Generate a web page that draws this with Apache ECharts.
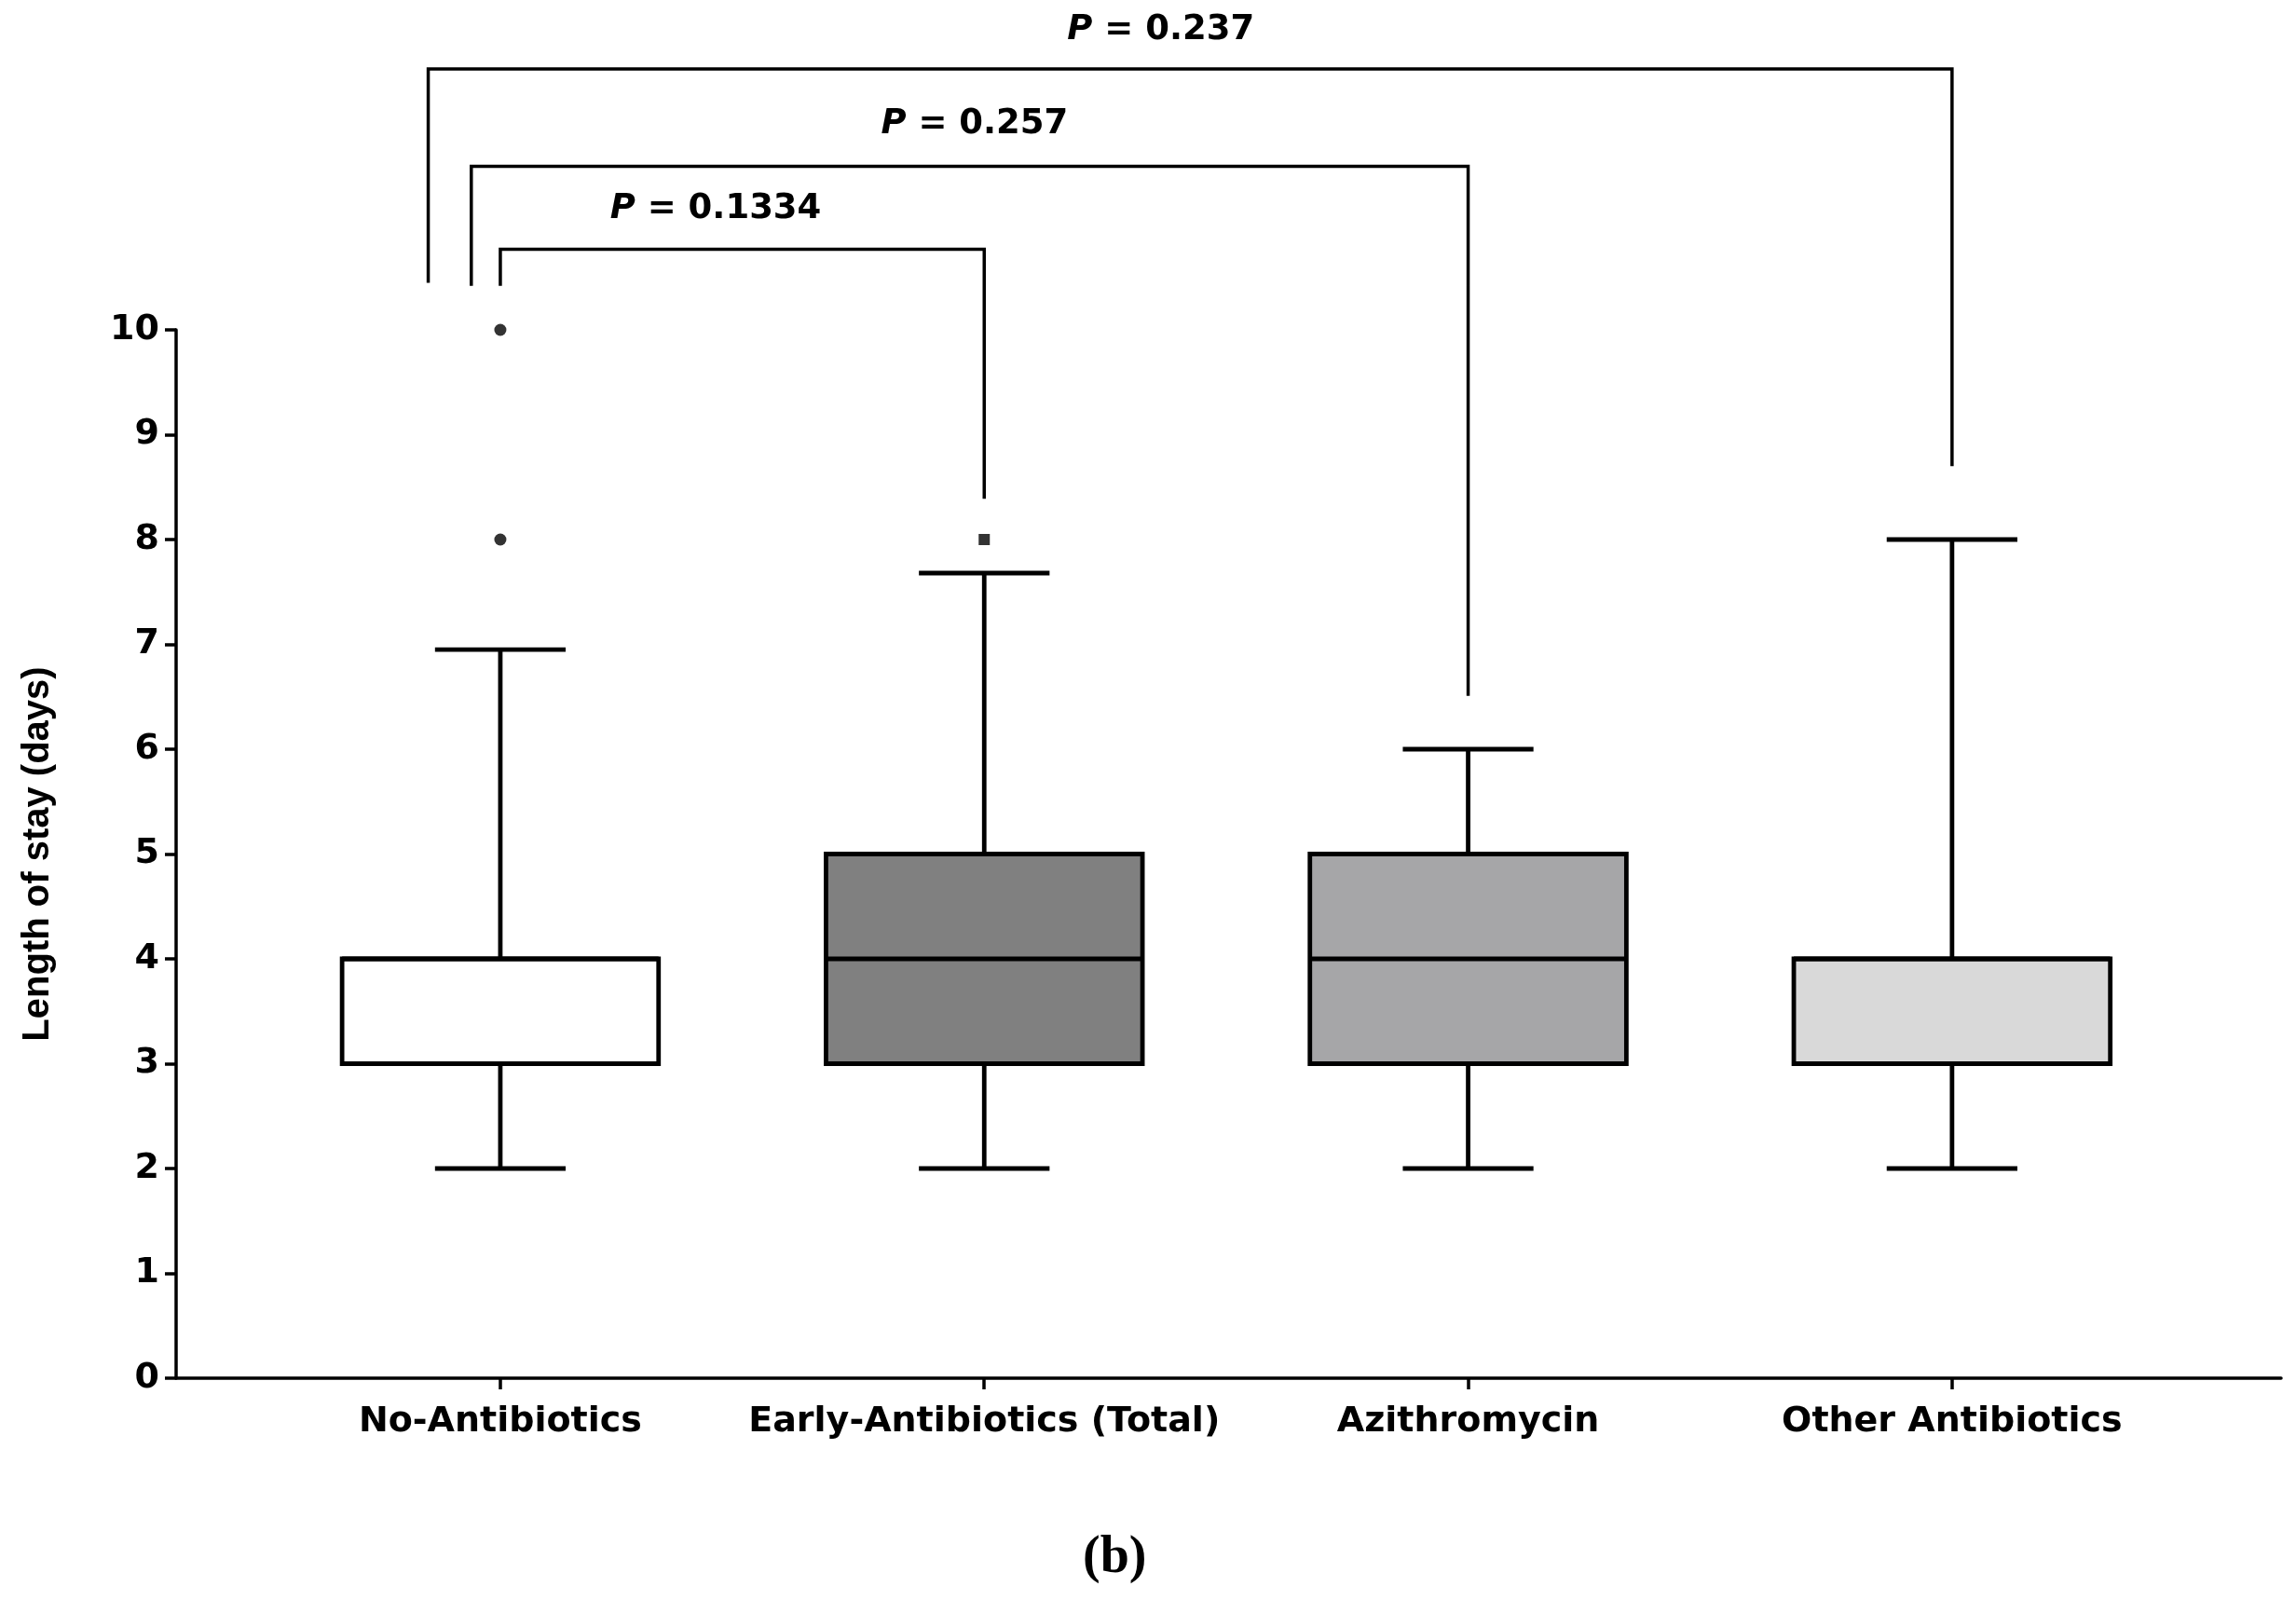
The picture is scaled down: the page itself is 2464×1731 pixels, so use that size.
<!DOCTYPE html>
<html><head><meta charset="utf-8">
<script src="https://cdn.jsdelivr.net/npm/echarts@6/dist/echarts.min.js"></script>
<style>html,body{margin:0;background:#fff}#c{width:2464px;height:1731px}</style>
</head><body><div id="c"></div>
<script>
const categories = ['No-Antibiotics', 'Early-Antibiotics (Total)', 'Azithromycin', 'Other Antibiotics'];
// [whiskerLow, q1, median, q3, whiskerHigh]
const boxValues = [
  [2, 3, 4, 4, 6.95],
  [2, 3, 4, 5, 7.68],
  [2, 3, 4, 5, 6],
  [2, 3, 4, 4, 8]
];
const boxColors = ['#ffffff', '#808080', '#a6a6a8', '#d9d9d9'];
const outliersCircle = [[0, 10], [0, 8]];
const outliersSquare = [[1, 8]];
// brackets: [leftX, leftY, topY, rightX, rightY, labelX, labelY, pText]
const brackets = [
  [0, 10.42, 10.77, 1, 8.39, 0.445, 11.15, '0.1334'],
  [-0.06, 10.42, 11.56, 2, 6.51, 0.98, 11.96, '0.257'],
  [-0.149, 10.45, 12.49, 3, 8.70, 1.365, 12.86, '0.237']
];
const yTicks = [0,1,2,3,4,5,6,7,8,9,10];

const LW = 4.8, HALF = 0.327, CAP = 0.135;
const font = '"DejaVu Sans", Verdana, sans-serif';
const chart = echarts.init(document.getElementById('c'));
chart.setOption({
  animation: false,
  grid: {left: 189, right: 16, top: 354, bottom: 252},
  xAxis: {
    type: 'value', min: -0.67, max: 3.68, splitLine: {show: false},
    axisLine: {onZero: false, lineStyle: {color: '#000', width: 3.5}},
    axisTick: {show: true, customValues: [0,1,2,3], length: 12, lineStyle: {color: '#000', width: 3.5}},
    axisLabel: {customValues: [0,1,2,3], formatter: v => categories[Math.round(v)], color: '#000', fontSize: 38, fontWeight: 'bold', fontFamily: font, margin: 28}
  },
  yAxis: {
    type: 'value', min: 0, max: 10, interval: 1, splitLine: {show: false},
    name: 'Length of stay (days)', nameLocation: 'middle', nameGap: 128,
    nameTextStyle: {fontSize: 40, fontWeight: 'bold', color: '#000', fontFamily: 'Liberation Sans, Arial, sans-serif'},
    axisLine: {show: true, onZero: false, lineStyle: {color: '#000', width: 3.5}},
    axisTick: {show: true, length: 12, lineStyle: {color: '#000', width: 3.5}},
    axisLabel: {color: '#000', fontSize: 38, fontWeight: 'bold', fontFamily: font, margin: 18}
  },
  series: [
    {
      type: 'custom', clip: false,
      data: boxValues.map((b, i) => [i, ...b]),
      renderItem: (params, api) => {
        const x = api.value(0), lo = api.value(1), q1 = api.value(2), md = api.value(3), q3 = api.value(4), hi = api.value(5);
        const c = (a, b) => api.coord([a, b]);
        const st = {stroke: '#000', lineWidth: LW, fill: null};
        const ln = (p, q) => ({type: 'line', shape: {x1: p[0], y1: p[1], x2: q[0], y2: q[1]}, style: st});
        const tl = c(x - HALF, q3), br = c(x + HALF, q1);
        return {type: 'group', children: [
          ln(c(x, hi), c(x, q3)), ln(c(x, q1), c(x, lo)),
          ln(c(x - CAP, hi), c(x + CAP, hi)), ln(c(x - CAP, lo), c(x + CAP, lo)),
          {type: 'rect', shape: {x: tl[0], y: tl[1], width: br[0] - tl[0], height: br[1] - tl[1]},
           style: {fill: boxColors[params.dataIndex], stroke: '#000', lineWidth: LW}},
          ln(c(x - HALF, md), c(x + HALF, md))
        ]};
      }
    },
    {type: 'scatter', data: outliersCircle, symbol: 'circle', symbolSize: 13, itemStyle: {color: '#000'}},
    {type: 'scatter', data: outliersSquare, symbol: 'rect', symbolSize: 12, itemStyle: {color: '#000'}},
    {
      type: 'custom', clip: false, data: brackets,
      renderItem: (params, api) => {
        const b = brackets[params.dataIndex];
        const c = (a, v) => api.coord([a, v]);
        const p1 = c(b[0], b[1]), p2 = c(b[0], b[2]), p3 = c(b[3], b[2]), p4 = c(b[3], b[4]), t = c(b[5], b[6]);
        return {type: 'group', children: [
          {type: 'polyline', shape: {points: [p1, p2, p3, p4]}, style: {stroke: '#000', lineWidth: 3.5, fill: null}},
          {type: 'text', x: t[0], y: t[1], style: {
            text: '{i|P} = ' + b[7], align: 'center', verticalAlign: 'middle',
            font: 'bold 37px ' + font, fill: '#000',
            rich: {i: {fontStyle: 'italic', fontWeight: 'bold', fontSize: 37, fontFamily: font}}
          }}
        ]};
      }
    }
  ],
  graphic: [{type: 'text', left: 1162, top: 1645, style: {text: '(b)', font: 'bold 56px "Liberation Serif", "DejaVu Serif", serif', fill: '#000'}}]
});
</script></body></html>
